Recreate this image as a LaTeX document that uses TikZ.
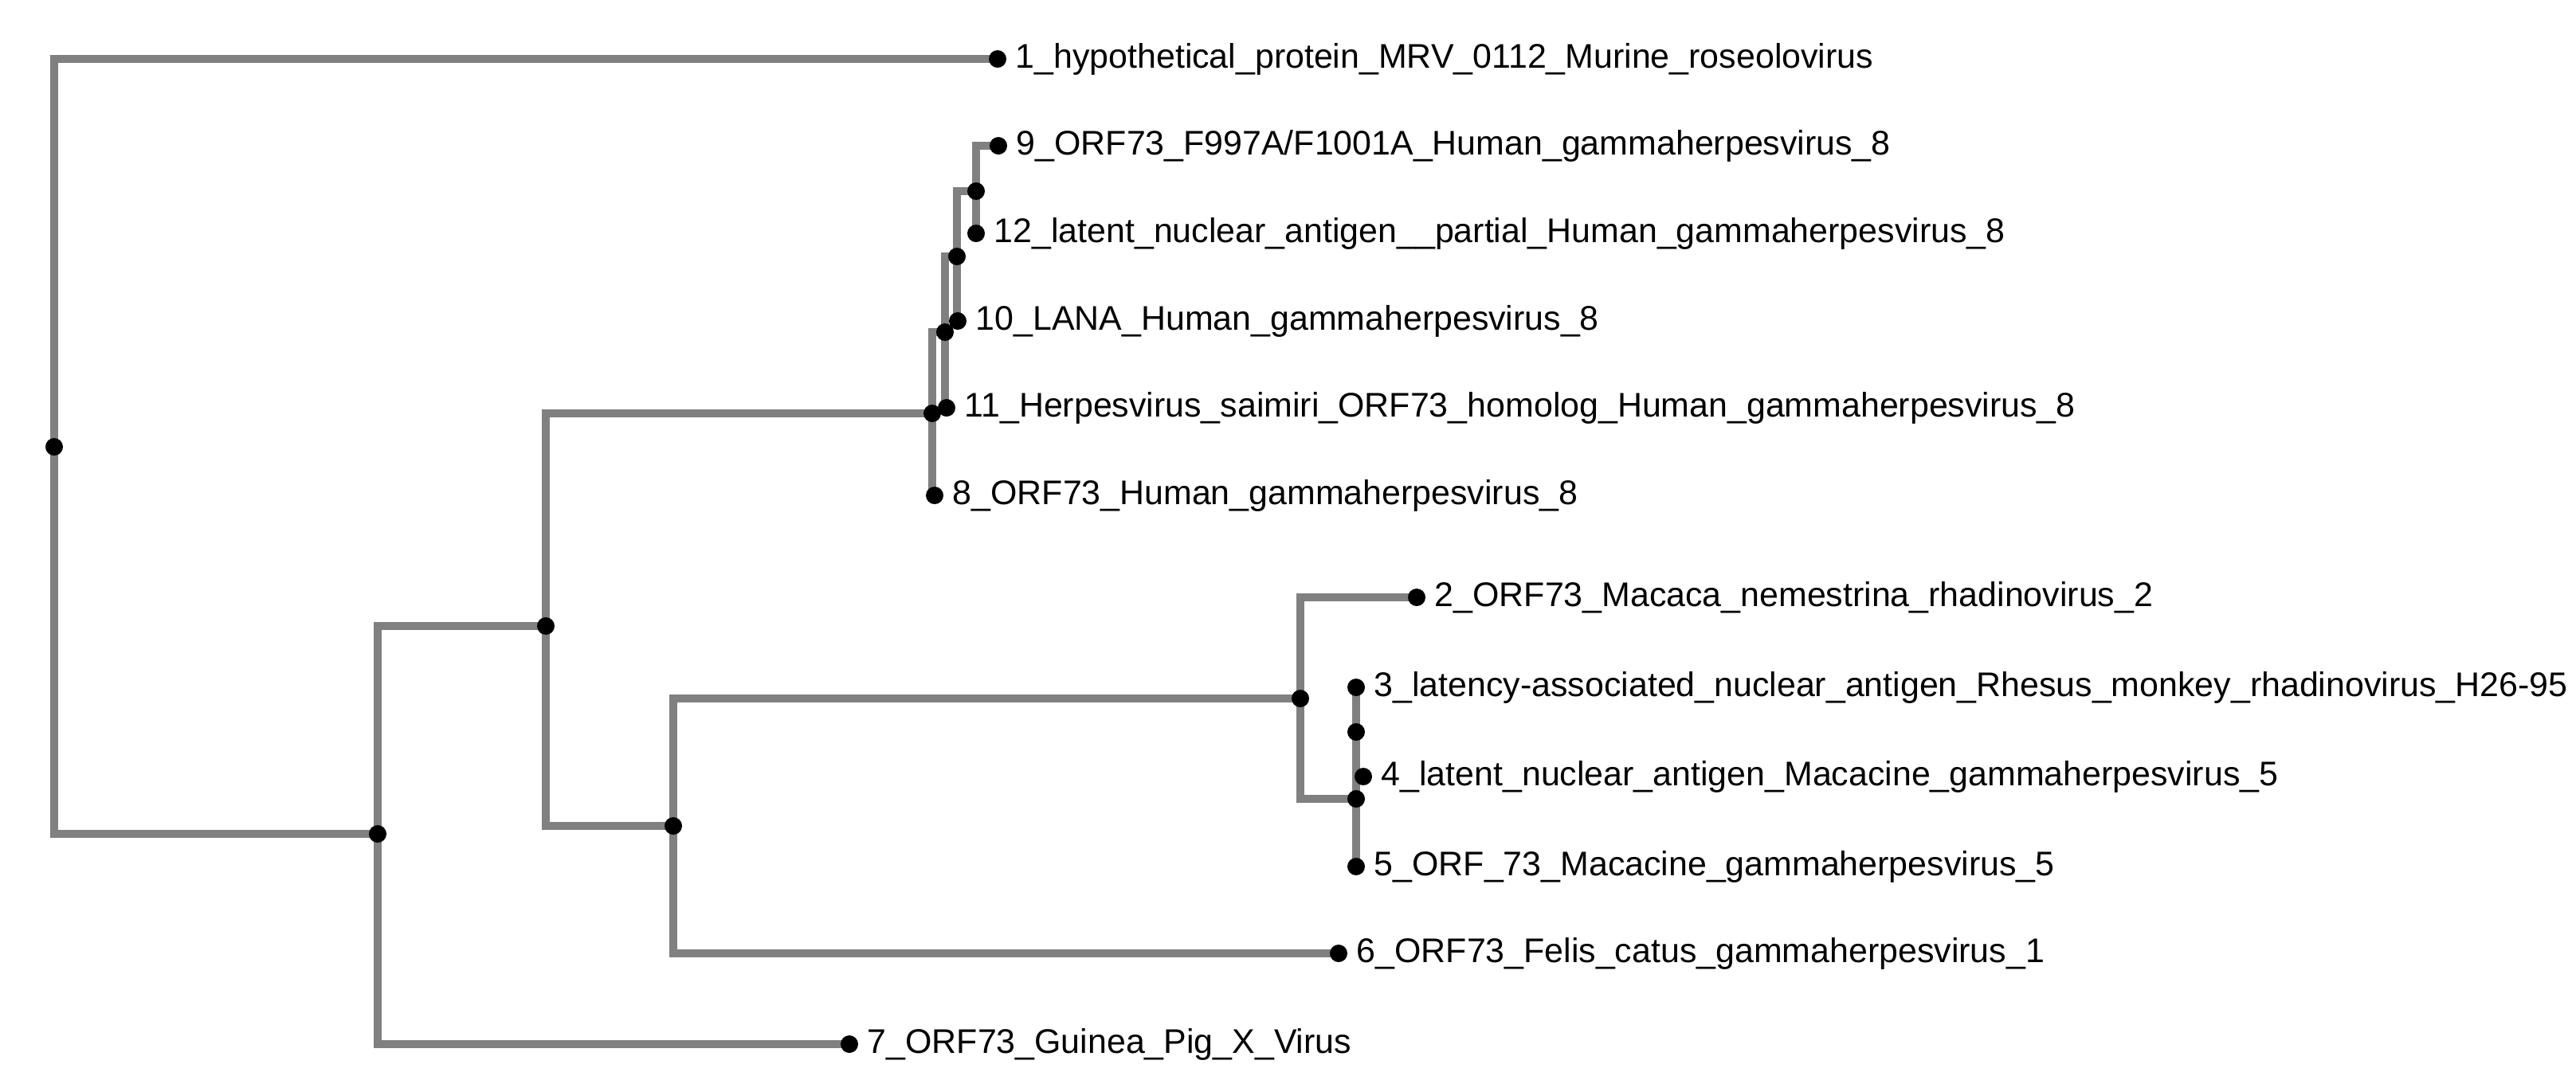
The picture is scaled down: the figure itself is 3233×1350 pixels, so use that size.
\documentclass[tikz,border=0pt]{standalone}
\usepackage{fontspec}
\setmainfont{Liberation Sans}
\usetikzlibrary{calc}

\begin{document}
\begin{tikzpicture}[x=0.01cm,y=-0.01cm,
    branch/.style={line width=3pt,draw=black!50},
    leaf/.style={anchor=west,font=\fontsize{12.2}{14}\selectfont,inner sep=0pt,xshift=0.22cm}]
      \useasboundingbox (0,0) rectangle (3233,1350);

      % internal nodes
      \coordinate (root) at (68,561);
      \coordinate (A) at (474,1047);
      \coordinate (B) at (685,786);
      \coordinate (C) at (1170,519);
      \coordinate (D) at (1186,417);
      \coordinate (E) at (1201,322);
      \coordinate (F) at (1225,240);
      \coordinate (J) at (845,1037);
      \coordinate (G) at (1632,877);
      \coordinate (H) at (1702,1003);
      \coordinate (I) at (1702,919);

      % leaves
      \coordinate (l1) at (1252,74);
      \coordinate (l9) at (1253,183);
      \coordinate (l12) at (1225,293);
      \coordinate (l10) at (1202,403);
      \coordinate (l11) at (1188,512);
      \coordinate (l8) at (1173,622);
      \coordinate (l2) at (1778,750);
      \coordinate (l3) at (1702,863);
      \coordinate (l4) at (1711,975);
      \coordinate (l5) at (1702,1088);
      \coordinate (l6) at (1680,1197);
      \coordinate (l7) at (1066,1311);

      % branches
      \foreach \p/\c in {root/l1,root/A,A/B,A/l7,B/C,B/J,C/D,C/l8,D/E,D/l11,
                         E/F,E/l10,F/l9,F/l12,J/G,J/l6,G/l2,G/H,H/I,H/l5,I/l3,I/l4}
        \draw[branch] (\p) |- (\c);

      % points
      \foreach \n in {root,A,B,C,D,E,F,J,G,H,I,l1,l2,l3,l4,l5,l6,l7,l8,l9,l10,l11,l12}
        \fill (\n) circle (0.11cm);

      % labels
      \node[leaf] (t1) at (l1) {1\_hypothetical\_protein\_MRV\_0112\_Murine\_roseolovirus};
      \node[leaf] (t9) at (l9) {9\_ORF73\_F997A/F1001A\_Human\_gammaherpesvirus\_8};
      \node[leaf] (t12) at (l12) {12\_latent\_nuclear\_antigen\_\_partial\_Human\_gammaherpesvirus\_8};
      \node[leaf] (t10) at (l10) {10\_LANA\_Human\_gammaherpesvirus\_8};
      \node[leaf] (t11) at (l11) {11\_Herpesvirus\_saimiri\_ORF73\_homolog\_Human\_gammaherpesvirus\_8};
      \node[leaf] (t8) at (l8) {8\_ORF73\_Human\_gammaherpesvirus\_8};
      \node[leaf] (t2) at (l2) {2\_ORF73\_Macaca\_nemestrina\_rhadinovirus\_2};
      \node[leaf] (t3) at (l3) {3\_latency-associated\_nuclear\_antigen\_Rhesus\_monkey\_rhadinovirus\_H26-95};
      \node[leaf] (t4) at (l4) {4\_latent\_nuclear\_antigen\_Macacine\_gammaherpesvirus\_5};
      \node[leaf] (t5) at (l5) {5\_ORF\_73\_Macacine\_gammaherpesvirus\_5};
      \node[leaf] (t6) at (l6) {6\_ORF73\_Felis\_catus\_gammaherpesvirus\_1};
      \node[leaf] (t7) at (l7) {7\_ORF73\_Guinea\_Pig\_X\_Virus};
    \end{tikzpicture}
\end{document}
